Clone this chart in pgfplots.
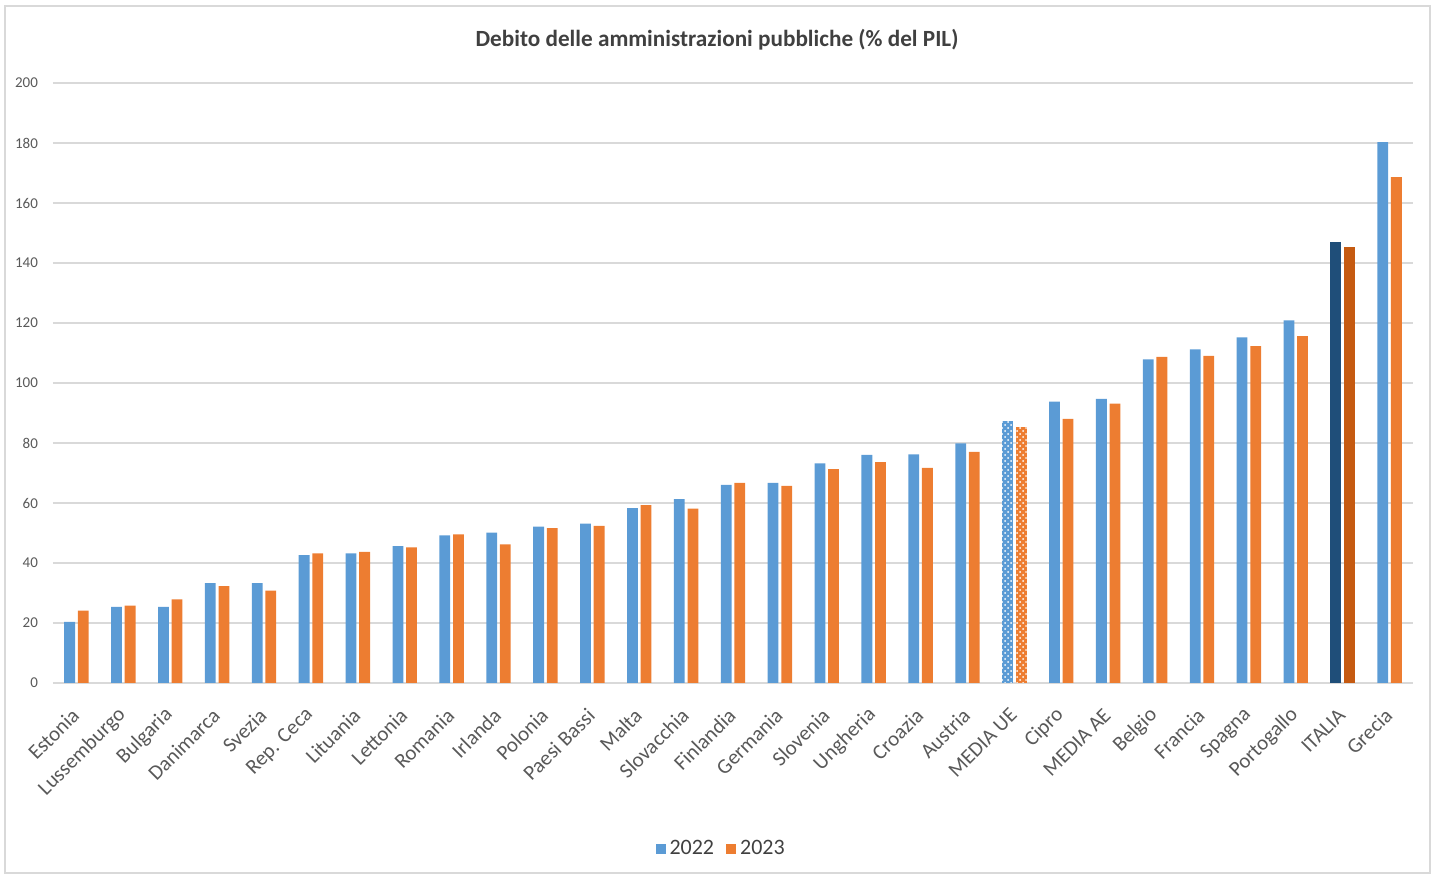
\documentclass[border=0pt]{standalone}
\usepackage{fontspec}
\setmainfont{Carlito}
\usepackage{pgfplots}
\pgfplotsset{compat=1.18}
\usetikzlibrary{patterns}

\definecolor{bluebar}{HTML}{5B9BD5}
\definecolor{orangebar}{HTML}{ED7D31}
\definecolor{darkbluebar}{HTML}{1F4E79}
\definecolor{darkorangebar}{HTML}{C55A11}
\definecolor{gridgray}{HTML}{D9D9D9}
\definecolor{textgray}{HTML}{595959}
\definecolor{titlegray}{HTML}{404040}

% index, 2022, 2023
\pgfplotstableread{
x y22 y23
0 20.4 24.1
1 25.4 25.8
2 25.4 27.9
3 33.3 32.3
4 33.3 30.8
5 42.6 43.2
6 43.2 43.7
7 45.6 45.2
8 49.2 49.5
9 50.1 46.2
10 52.1 51.6
11 53.1 52.4
12 58.3 59.3
13 61.3 58.1
14 66.0 66.7
15 66.7 65.7
16 73.2 71.3
17 76.0 73.6
18 76.2 71.7
19 79.9 77.0
21 93.8 88.0
22 94.7 93.1
23 107.9 108.7
24 111.2 109.0
25 115.2 112.3
26 120.9 115.6
28 180.3 168.6
}\countries
\pgfplotstableread{
x y22 y23
20 87.2 85.4
}\mediaue
\pgfplotstableread{
x y22 y23
27 146.9 145.3
}\italia

\begin{document}
\begin{tikzpicture}
\useasboundingbox (0,0) rectangle (715.5pt,439pt);
\draw[gridgray, line width=0.6pt] (2.5pt,2.5pt) rectangle (715pt,436pt);
\node[font=\bfseries\fontsize{11.6}{14}\selectfont, text=titlegray] at (358.5pt,419pt)
  {Debito delle amministrazioni pubbliche (\% del PIL)};
\begin{axis}[
  at={(26.5pt,97.5pt)}, anchor=south west,
  scale only axis, width=680pt, height=300pt,
  xmin=-0.5, xmax=28.5, ymin=0, ymax=200,
  ytick={0,20,...,200},
  xtick={0,...,28},
  xticklabels={Estonia,Lussemburgo,Bulgaria,Danimarca,Svezia,Rep. Ceca,Lituania,Lettonia,Romania,Irlanda,Polonia,Paesi Bassi,Malta,Slovacchia,Finlandia,Germania,Slovenia,Ungheria,Croazia,Austria,MEDIA UE,Cipro,MEDIA AE,Belgio,Francia,Spagna,Portogallo,ITALIA,Grecia},
  axis line style={draw=none},
  major tick length=0pt,
  ymajorgrids, grid style={draw=gridgray, line width=0.6pt},
  /pgf/number format/assume math mode=true,
  yticklabel style={font=\fontsize{7.5}{9}\selectfont, text=textgray, xshift=-4pt},
  xticklabel style={font=\fontsize{10.5}{12}\selectfont, text=textgray,
    xshift=2pt, yshift=-12pt, rotate=45, anchor=east},
  legend style={at={(0.492,-0.277)}, anchor=center, draw=none, fill=none,
    legend columns=2, font=\fontsize{11}{13}\selectfont, text=titlegray,
    /tikz/every even column/.append style={column sep=4pt}},
  legend image code/.code={\fill[#1] (0pt,-2.5pt) rectangle (5pt,2.5pt);},
]
\addplot[ybar, bar width=5.4pt, bar shift=-3.4pt, fill=bluebar, draw=none]
  table[x=x, y=y22] {\countries};
\addlegendentry{2022}
\addplot[ybar, bar width=5.4pt, bar shift=3.4pt, fill=orangebar, draw=none]
  table[x=x, y=y23] {\countries};
\addlegendentry{2023}
% EU average, dotted fill
\addplot[ybar, bar width=5.4pt, bar shift=-3.4pt, fill=bluebar, draw=none, forget plot,
  postaction={pattern=crosshatch dots, pattern color=white}]
  table[x=x, y=y22] {\mediaue};
\addplot[ybar, bar width=5.4pt, bar shift=3.4pt, fill=orangebar, draw=none, forget plot,
  postaction={pattern=crosshatch dots, pattern color=white}]
  table[x=x, y=y23] {\mediaue};
% Italy, darker shades
\addplot[ybar, bar width=5.4pt, bar shift=-3.4pt, fill=darkbluebar, draw=none, forget plot]
  table[x=x, y=y22] {\italia};
\addplot[ybar, bar width=5.4pt, bar shift=3.4pt, fill=darkorangebar, draw=none, forget plot]
  table[x=x, y=y23] {\italia};
\end{axis}
\end{tikzpicture}
\end{document}
